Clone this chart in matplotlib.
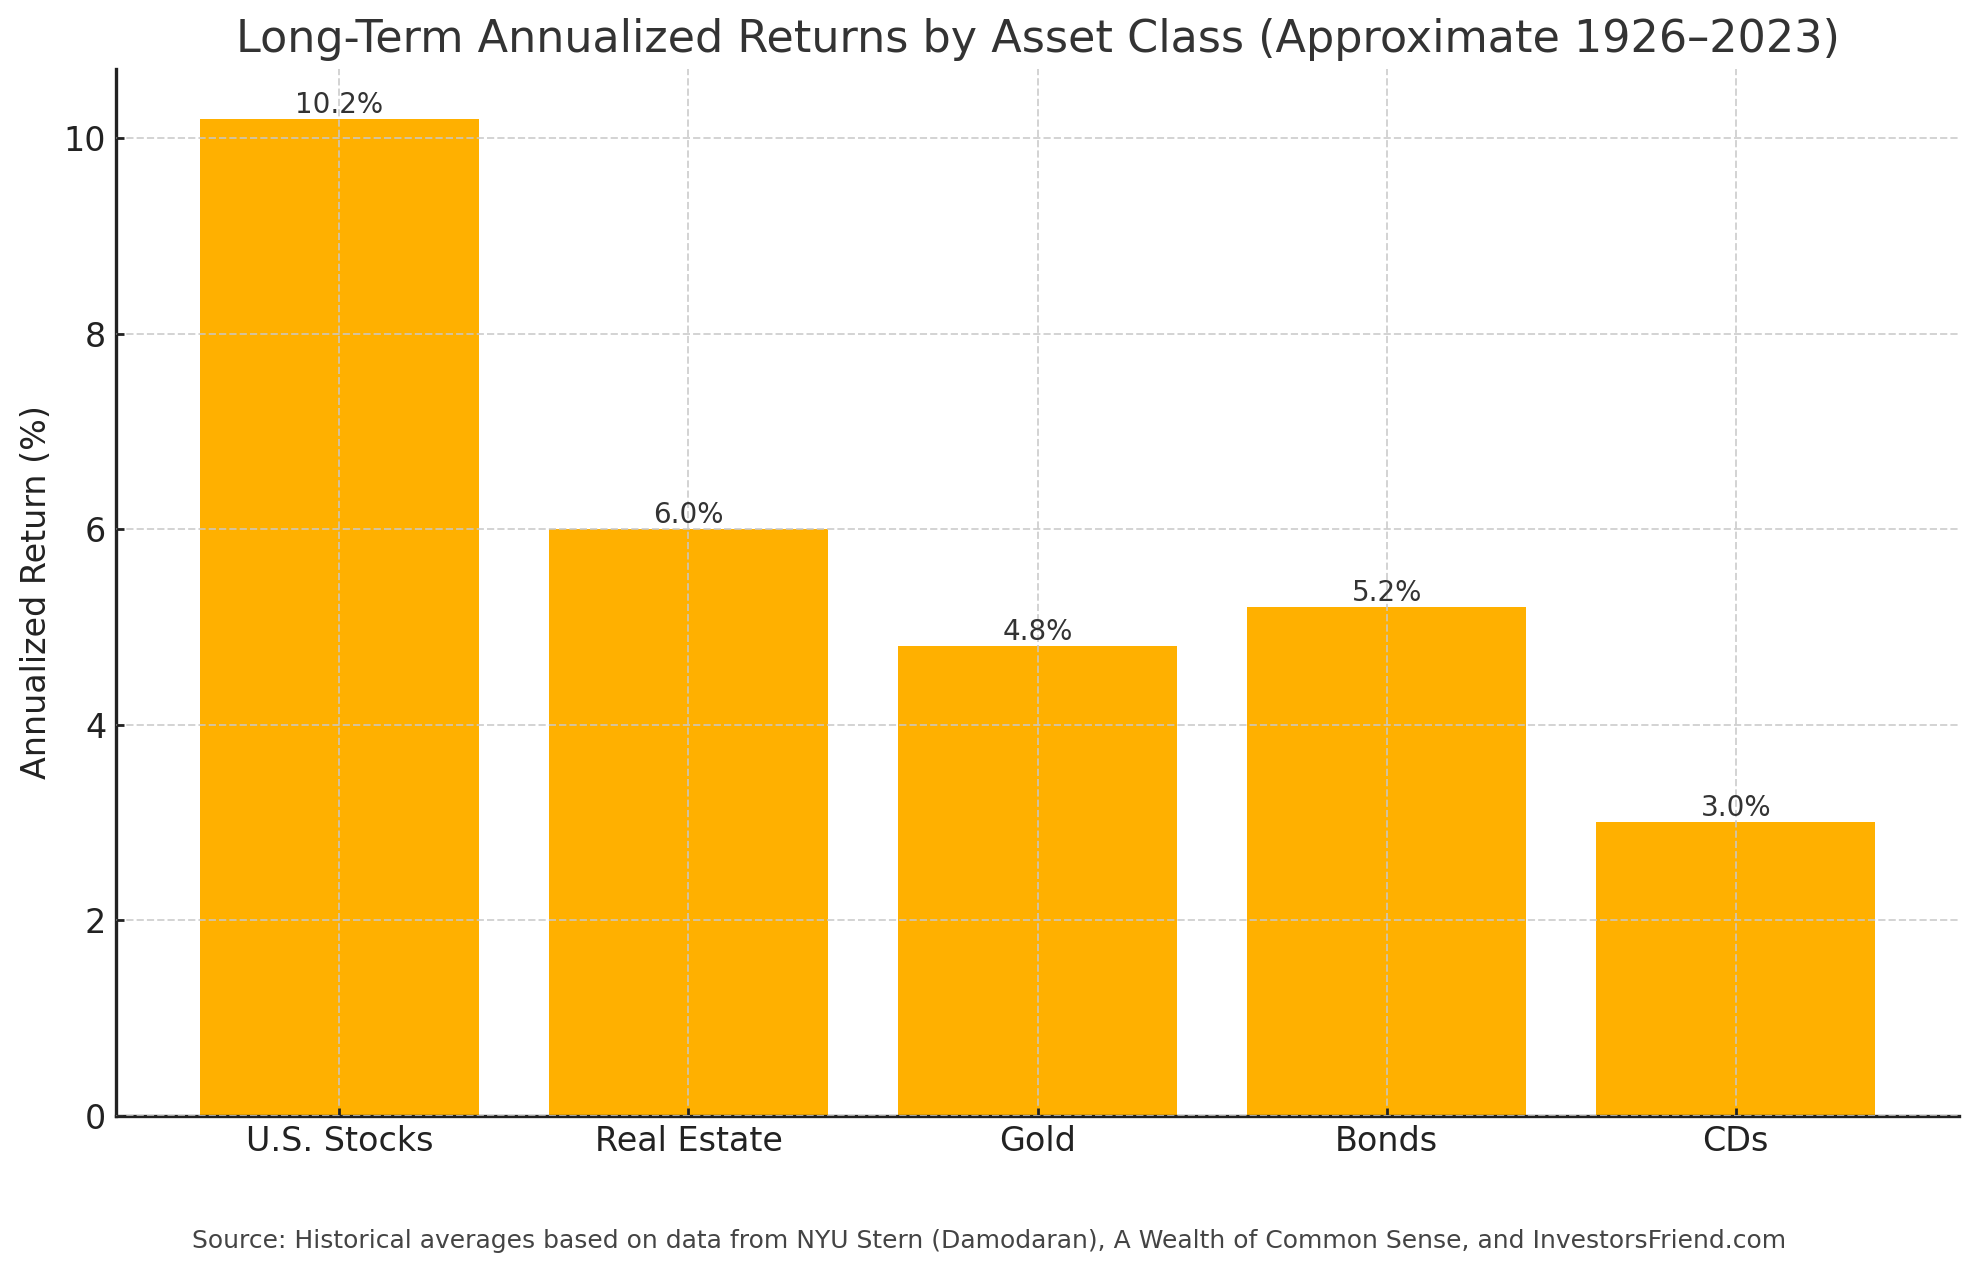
import numpy as np
from matplotlib import pyplot as plt

# asset classes and approximate long-term annualized returns (%)
asset_classes = ['U.S. Stocks', 'Real Estate', 'Gold', 'Bonds', 'CDs']
annual_returns = [10.2, 6.0, 4.8, 5.2, 3.0]

title = 'Long-Term Annualized Returns by Asset Class (Approximate 1926\u20132023)'
y_label = 'Annualized Return (%)'
source_note = ('Source: Historical averages based on data from NYU Stern (Damodaran), '
               'A Wealth of Common Sense, and InvestorsFriend.com')

bar_color = '#FFB000'

fig = plt.figure(figsize=(1979 / 200, 1275 / 200), dpi=200)
ax = fig.add_axes([0.0586, 0.125, 0.9314, 0.821])

x = np.arange(len(asset_classes))
bars = ax.bar(x, annual_returns, width=0.8, color=bar_color, zorder=2)

for rect, val in zip(bars, annual_returns):
    ax.text(rect.get_x() + rect.get_width() / 2, rect.get_height(),
            f'{val:.1f}%', ha='center', va='bottom', fontsize=10, color='#333333', zorder=3)

ax.set_xticks(x)
ax.set_xticklabels(asset_classes, fontsize=12, color='#222222')
ax.tick_params(axis='y', labelsize=12, labelcolor='#222222')
ax.tick_params(direction='in', length=3, width=1.0, color='#222222')
ax.set_yticks([0, 2, 4, 6, 8, 10])
ax.set_ylabel(y_label, fontsize=12, color='#222222')
ax.set_title(title, fontsize=16, color='#333333', pad=6)

ax.grid(True, linestyle='--', color='#c8c8c8', linewidth=0.7, alpha=0.8, zorder=0)
ax.set_axisbelow(False)
for s in ['top', 'right']:
    ax.spines[s].set_visible(False)
for s in ['left', 'bottom']:
    ax.spines[s].set_linewidth(1.2)
    ax.spines[s].set_color('#222222')

fig.text(0.5, 0.027, source_note, ha='center', va='center', fontsize=9, color='#444444')

fig.savefig('out.png', dpi=200)
